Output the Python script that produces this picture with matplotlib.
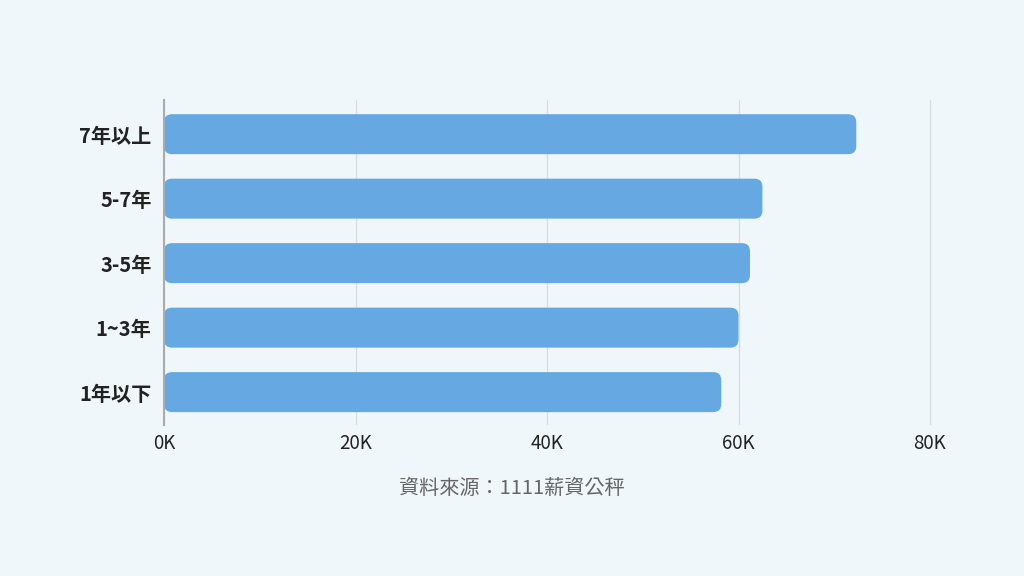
import matplotlib
matplotlib.use("Agg")
import matplotlib.pyplot as plt
from matplotlib.patches import FancyBboxPatch
from matplotlib.ticker import FuncFormatter

plt.rcParams["font.family"] = ["Noto Sans CJK TC", "DejaVu Sans"]

# データ
categories = ["1年以下", "1~3年", "3-5年", "5-7年", "7年以上"]
salaries = [58200, 60000, 61200, 62500, 72300]
x_ticks = [0, 20000, 40000, 60000, 80000]
source_text = "資料來源：1111薪資公秤"

BG = "#f0f7fa"
BAR = "#66a8e2"

XMAX = 81000
px_x = 766 / 80000  # 1単位あたりのピクセル

fig = plt.figure(figsize=(10.24, 5.76), dpi=100, facecolor=BG)
ax = fig.add_axes([164 / 1024, 151 / 576, XMAX * px_x / 1024, 325 / 576])
ax.set_facecolor(BG)

bars = ax.barh(range(len(categories)), salaries, height=0.62, color=BAR)
ax.set_xlim(0, XMAX)
ax.set_ylim(-0.51, len(categories) - 0.47)

# 角丸の棒に置き換える
px_y = 325 / (len(categories) - 0.47 + 0.51)
r = 8
for b in bars:
    x, y = b.get_x(), b.get_y()
    w, h = b.get_width(), b.get_height()
    b.remove()
    rp = FancyBboxPatch((x, y), w, h,
                        boxstyle="round,pad=0,rounding_size=%f" % (r / px_x),
                        mutation_aspect=(r / px_y) / (r / px_x),
                        facecolor=BAR, edgecolor="none", zorder=3)
    ax.add_patch(rp)

ax.set_yticks(range(len(categories)))
ax.set_yticklabels(categories, fontsize=14.5, fontweight="bold", color="#222222")
ax.set_xticks(x_ticks)
ax.xaxis.set_major_formatter(FuncFormatter(lambda v, p: "%dK" % (v / 1000)))
for t in ax.get_xticklabels():
    t.set_fontsize(13.5)
    t.set_color("#222222")
ax.tick_params(axis="y", length=0, pad=9)
ax.tick_params(axis="x", length=0, pad=6)

ax.grid(axis="x", color="#d9dde0", linewidth=1, zorder=0)
ax.set_axisbelow(True)
for s in ["top", "right", "bottom"]:
    ax.spines[s].set_visible(False)
ax.spines["left"].set_color("#a8adb0")
ax.spines["left"].set_linewidth(1.5)
ax.spines["left"].set_zorder(4)

fig.text(0.5, 1 - 488 / 576, source_text, ha="center", va="center",
         fontsize=14.5, color="#666666")

fig.savefig("out.png", dpi=100, facecolor=BG)
